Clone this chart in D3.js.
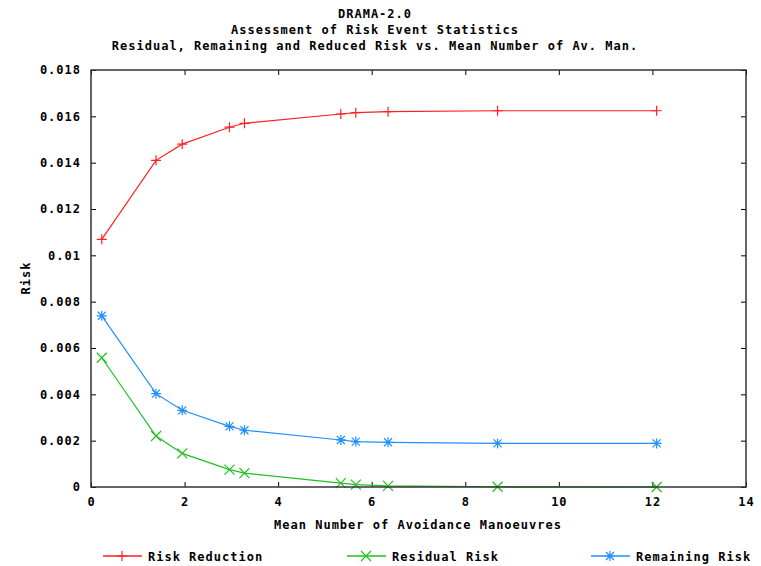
<!DOCTYPE html>
<html>
<head>
<meta charset="utf-8">
<script src="https://cdn.jsdelivr.net/npm/d3@7"></script>
<style>
	body { margin:0; background:#fff; }
	text { font-family:'DejaVu Sans Mono', monospace; font-weight:bold; font-size:12px; letter-spacing:1px; fill:#000; }
</style>
</head>
<body>
<svg class="chart" width="761" height="566"></svg>
<script>

var titles = ['DRAMA-2.0', 'Assessment of Risk Event Statistics', 'Residual, Remaining and Reduced Risk vs. Mean Number of Av. Man.'];

var manoeuvres = [0.23, 1.39, 1.95, 2.96, 3.28, 5.34, 5.66, 6.35, 8.69, 12.09];
var riskReduction = [0.01069, 0.01410, 0.01480, 0.01553, 0.01570, 0.01610, 0.01616, 0.01620, 0.01624, 0.01624];
var residualRisk = [0.00558, 0.00220, 0.00145, 0.00075, 0.00060, 0.00017, 0.00010, 0.00005, 0.00001, 0.0];
var remainingRisk = [0.00739, 0.00403, 0.00331, 0.00262, 0.00245, 0.00203, 0.00196, 0.00193, 0.00188, 0.00188];

var xTicks = [0, 2, 4, 6, 8, 10, 12, 14];
var yTicks = [0, 0.002, 0.004, 0.006, 0.008, 0.01, 0.012, 0.014, 0.016, 0.018];

var series = [
	{name:'Risk Reduction', values:riskReduction, color:'#ff2020', marker:'plus'},
	{name:'Residual Risk', values:residualRisk, color:'#20c020', marker:'cross'},
	{name:'Remaining Risk', values:remainingRisk, color:'#2090ff', marker:'star'}
];

var plotLeft = 91, plotRight = 746, plotTop = 70, plotBottom = 487;

var xScale = d3.scaleLinear().domain([0,14]).range([plotLeft,plotRight]);
var yScale = d3.scaleLinear().domain([0,0.018]).range([plotBottom,plotTop]);

var svg = d3.select('.chart');

// titles
svg.selectAll('.title')
	.data(titles)
	.enter()
	.append('text')
	.attr('x',375)
	.attr('y',(d,i)=>18+i*16)
	.attr('text-anchor','middle')
	.text(d=>d);

// markers
function markerPath(type){
	var s = 5;
	if(type=='plus') return 'M'+(-s)+',0H'+s+'M0,'+(-s)+'V'+s;
	if(type=='cross') return 'M'+(-s)+','+(-s)+'L'+s+','+s+'M'+(-s)+','+s+'L'+s+','+(-s);
	return 'M'+(-s)+',0H'+s+'M0,'+(-s)+'V'+s+'M-4,-4L4,4M-4,4L4,-4';
}

var line = d3.line()
	.x(d=>xScale(d[0]))
	.y(d=>yScale(d[1]));

//axes (ticks under the curves, frame over them)
var xAxisB = d3.axisBottom(xScale).tickValues(xTicks).tickSize(-5).tickPadding(10).tickFormat(d3.format('d'));
var xAxisT = d3.axisTop(xScale).tickValues(xTicks).tickSize(-5).tickFormat('');
var yAxisL = d3.axisLeft(yScale).tickValues(yTicks).tickSize(-5).tickPadding(10).tickFormat(d=>d==0?'0':String(+d.toFixed(3)));
var yAxisR = d3.axisRight(yScale).tickValues(yTicks).tickSize(-5).tickFormat('');

[[xAxisB,'0,'+plotBottom],[xAxisT,'0,'+plotTop],[yAxisL,plotLeft+',0'],[yAxisR,plotRight+',0']].forEach(function(a){
	var g = svg.append('g').attr('transform','translate('+a[1]+')').call(a[0]);
	g.select('.domain').remove();
	g.selectAll('.tick line').attr('stroke','#000');
	g.selectAll('.tick text').attr('font-family',null).attr('font-size',null).attr('fill',null);
});

series.forEach(function(s){
	var pts = manoeuvres.map((x,i)=>[x,s.values[i]]);
	svg.append('path')
		.attr('d',line(pts))
		.attr('fill','none')
		.attr('stroke',s.color)
		.attr('stroke-width',1.2);
	svg.selectAll(null)
		.data(pts)
		.enter()
		.append('path')
		.attr('transform',d=>'translate('+xScale(d[0])+','+yScale(d[1])+')')
		.attr('d',markerPath(s.marker))
		.attr('fill','none')
		.attr('stroke',s.color)
		.attr('stroke-width',1.2);
});

svg.append('rect')
	.attr('x',plotLeft).attr('y',plotTop)
	.attr('width',plotRight-plotLeft).attr('height',plotBottom-plotTop)
	.attr('fill','none')
	.attr('stroke','#333')
	.attr('stroke-width',1.5);

// axis labels
svg.append('text')
	.attr('x',418).attr('y',529)
	.attr('text-anchor','middle')
	.text('Mean Number of Avoidance Manoeuvres');

svg.append('text')
	.attr('transform','translate(30,278) rotate(-90)')
	.attr('text-anchor','middle')
	.text('Risk');

// legend
var legendX = [103, 347, 591];
var legend = svg.selectAll('.legend')
	.data(series)
	.enter()
	.append('g')
	.attr('transform',(d,i)=>'translate('+legendX[i]+',556)');

legend.append('line')
	.attr('x1',0).attr('x2',39)
	.attr('stroke',d=>d.color)
	.attr('stroke-width',1.5);
legend.append('path')
	.attr('transform','translate(19,0)')
	.attr('d',d=>markerPath(d.marker))
	.attr('fill','none')
	.attr('stroke',d=>d.color)
	.attr('stroke-width',1.2);
legend.append('text')
	.attr('x',45).attr('y',5)
	.text(d=>d.name);

</script>
</body>
</html>
